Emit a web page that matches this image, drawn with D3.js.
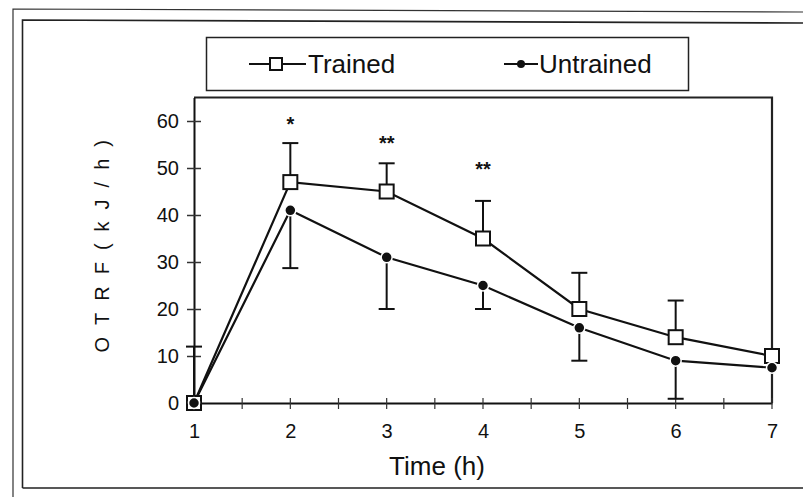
<!DOCTYPE html>
<html>
<head>
<meta charset="utf-8">
<script src="https://cdn.jsdelivr.net/npm/d3@7"></script>
<style>
  body { margin: 0; background: #fff; }
  text { font-family: "Liberation Sans", Arial, sans-serif; fill: #111; }
</style>
</head>
<body>
<div id="chart"></div>
<script>
// data
var times = [1, 2, 3, 4, 5, 6, 7];
var trained = [0, 47, 45, 35, 20, 14, 10];
var trainedErr = [12, 8.3, 6, 8, 7.7, 7.8, 0];      // drawn upward
var untrained = [0, 41, 31, 25, 16, 9, 7.5];
var untrainedErr = [0, 12.3, 11, 5, 7, 8.1, 0];     // drawn downward
var yTicks = [0, 10, 20, 30, 40, 50, 60];
var stars = [{ t: 2, v: 60.5, s: "*" }, { t: 3, v: 56.3, s: "**" }, { t: 4, v: 50.8, s: "**" }];

var W = 803, H = 497;
var margin = { top: 97.5, right: 31, bottom: 94, left: 194 };

var svg = d3.select("#chart").append("svg")
  .attr("width", W)
  .attr("height", H);

// outer frames of the scanned figure
svg.append("path")
  .attr("d", "M13,497 L13,9 L803,12")
  .attr("fill", "none").attr("stroke", "#333").attr("stroke-width", 1.2);
svg.append("path")
  .attr("d", "M22.5,488 L22.5,20 L803,23 M22.5,488 L803,488")
  .attr("fill", "none").attr("stroke", "#222").attr("stroke-width", 1.6);

var x = d3.scaleLinear().domain([1, 7]).range([margin.left, W - margin.right]);
var y = d3.scaleLinear().domain([0, 65]).range([H - margin.bottom, margin.top]);

// plot frame: top and right
svg.append("path")
  .attr("d", "M" + x(1) + "," + y(65) + " L" + x(7) + "," + y(65) + " L" + x(7) + "," + y(0))
  .attr("fill", "none").attr("stroke", "#222").attr("stroke-width", 2.2);

// Y axis
var yAxis = svg.append("g")
  .attr("transform", "translate(" + x(1) + ",0)")
  .call(d3.axisLeft(y).tickValues(yTicks).tickSize(0).tickPadding(15));
yAxis.select(".domain").attr("stroke", "#111").attr("stroke-width", 2);
yAxis.selectAll("text").style("font-size", "20px").attr("fill", "#111");
yAxis.selectAll(".tick").append("line")
  .attr("x1", -7).attr("x2", 7).attr("stroke", "#333").attr("stroke-width", 1.5);

// X axis
var xAxis = svg.append("g")
  .attr("transform", "translate(0," + y(0) + ")")
  .call(d3.axisBottom(x).tickValues(times).tickSize(0).tickPadding(21).tickFormat(d3.format("d")));
xAxis.select(".domain").attr("stroke", "#111").attr("stroke-width", 2);
xAxis.selectAll("text").style("font-size", "20px").attr("fill", "#111");
xAxis.selectAll(".tickline")
  .data(d3.range(1.5, 7.01, 0.5))
  .enter().append("line")
  .attr("x1", function (d) { return x(d); })
  .attr("x2", function (d) { return x(d); })
  .attr("y1", -5).attr("y2", 6)
  .attr("stroke", "#333").attr("stroke-width", 1.2);

// axis titles
svg.append("text")
  .attr("transform", "translate(109," + ((y(0) + y(65)) / 2 - 10) + ") rotate(-90)")
  .attr("text-anchor", "middle")
  .style("font-size", "20px")
  .style("letter-spacing", "12px")
  .text("OTRF(kJ/h)");
svg.append("text")
  .attr("x", 437).attr("y", 475)
  .attr("text-anchor", "middle")
  .style("font-size", "26px")
  .text("Time (h)");

var capW = 8;

// trained error bars (up)
var tErr = svg.append("g");
times.forEach(function (t, i) {
  if (!trainedErr[i]) return;
  var top = y(trained[i] + trainedErr[i]);
  tErr.append("line").attr("x1", x(t)).attr("x2", x(t))
    .attr("y1", y(trained[i])).attr("y2", top)
    .attr("stroke", "#111").attr("stroke-width", 2);
  tErr.append("line").attr("x1", x(t) - capW).attr("x2", x(t) + capW)
    .attr("y1", top).attr("y2", top)
    .attr("stroke", "#111").attr("stroke-width", 2);
});

// untrained error bars (down)
var uErr = svg.append("g");
times.forEach(function (t, i) {
  if (!untrainedErr[i]) return;
  var bot = y(untrained[i] - untrainedErr[i]);
  uErr.append("line").attr("x1", x(t)).attr("x2", x(t))
    .attr("y1", y(untrained[i])).attr("y2", bot)
    .attr("stroke", "#111").attr("stroke-width", 2);
  uErr.append("line").attr("x1", x(t) - capW).attr("x2", x(t) + capW)
    .attr("y1", bot).attr("y2", bot)
    .attr("stroke", "#111").attr("stroke-width", 2);
});

var line = d3.line()
  .x(function (d, i) { return x(times[i]); })
  .y(function (d) { return y(d); });

svg.append("path").datum(untrained)
  .attr("d", line).attr("fill", "none")
  .attr("stroke", "#111").attr("stroke-width", 2.2);
svg.append("path").datum(trained)
  .attr("d", line).attr("fill", "none")
  .attr("stroke", "#111").attr("stroke-width", 2.2);

// markers
svg.selectAll(".sq").data(trained).enter().append("rect")
  .attr("x", function (d, i) { return x(times[i]) - 7; })
  .attr("y", function (d) { return y(d) - 7; })
  .attr("width", 14).attr("height", 14)
  .attr("fill", "#fff").attr("stroke", "#111").attr("stroke-width", 2);
svg.selectAll(".dot").data(untrained).enter().append("circle")
  .attr("cx", function (d, i) { return x(times[i]); })
  .attr("cy", function (d) { return y(d); })
  .attr("r", 5.5)
  .attr("fill", "#111").attr("stroke", "#fff").attr("stroke-width", 1.5);

// significance marks
svg.selectAll(".star").data(stars).enter().append("text")
  .attr("x", function (d) { return x(d.t); })
  .attr("y", function (d) { return y(d.v) + 12; })
  .attr("text-anchor", "middle")
  .style("font-size", "20px")
  .style("font-weight", "bold")
  .text(function (d) { return d.s; });

// legend
var lg = svg.append("g");
lg.append("rect")
  .attr("x", 206.5).attr("y", 37.5).attr("width", 482).attr("height", 53)
  .attr("fill", "#fff").attr("stroke", "#222").attr("stroke-width", 1.5);
lg.append("line").attr("x1", 249).attr("x2", 306).attr("y1", 64).attr("y2", 64)
  .attr("stroke", "#111").attr("stroke-width", 2);
lg.append("rect").attr("x", 270).attr("y", 58).attr("width", 12).attr("height", 12)
  .attr("fill", "#fff").attr("stroke", "#111").attr("stroke-width", 2);
lg.append("text").attr("x", 308).attr("y", 73).style("font-size", "26px").text("Trained");
lg.append("line").attr("x1", 504).attr("x2", 538).attr("y1", 64).attr("y2", 64)
  .attr("stroke", "#111").attr("stroke-width", 2);
lg.append("circle").attr("cx", 521).attr("cy", 64).attr("r", 4)
  .attr("fill", "#111");
lg.append("text").attr("x", 539).attr("y", 73).style("font-size", "26px").text("Untrained");
</script>
</body>
</html>
